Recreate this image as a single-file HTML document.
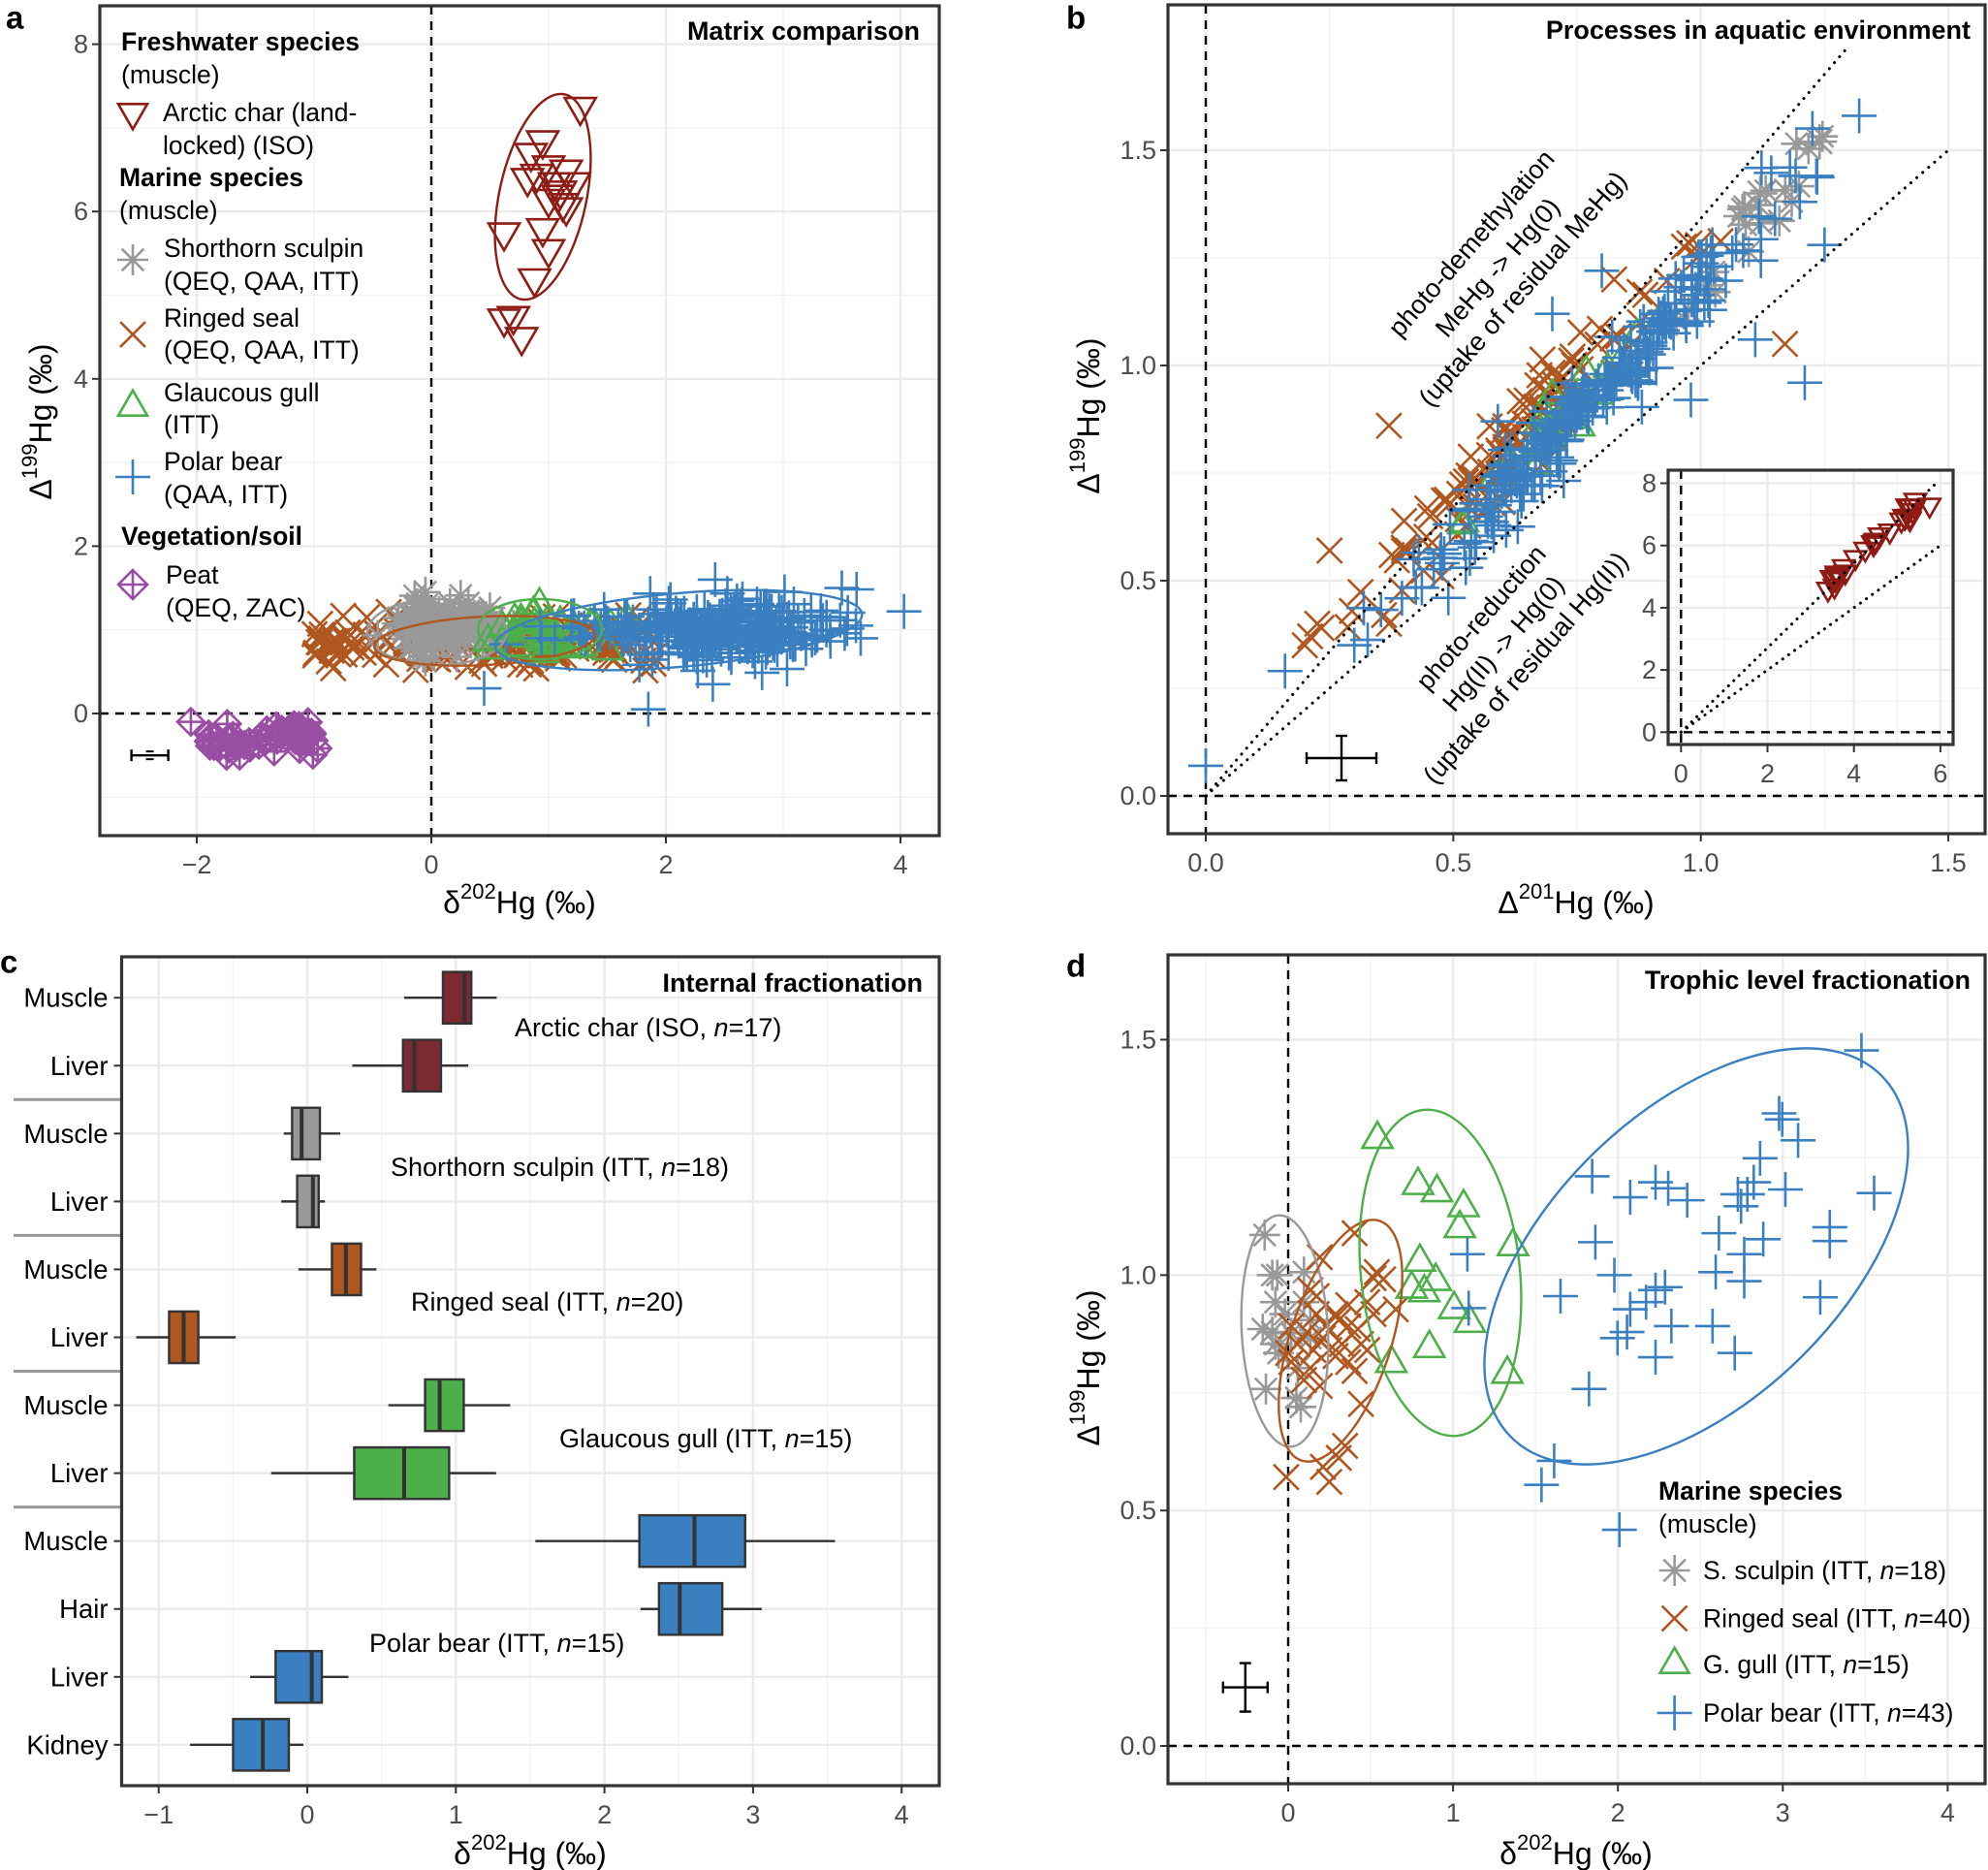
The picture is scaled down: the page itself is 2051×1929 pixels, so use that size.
<!DOCTYPE html>
<html><head><meta charset="utf-8"><style>
html,body{margin:0;padding:0;background:#fff;}
svg{display:block;font-family:"Liberation Sans",Arial,sans-serif;}
</style></head><body>
<svg id="s" width="2051" height="1929" viewBox="0 0 2051 1929" xmlns="http://www.w3.org/2000/svg"></svg>
<script>
var o=[];
function P(s){o.push(s);}
var seed=12345;function R(){seed|=0;seed=seed+0x6D2B79F5|0;var t=Math.imul(seed^seed>>>15,1|seed);t=t+Math.imul(t^t>>>7,61|t)^t;return((t^t>>>14)>>>0)/4294967296;}
function G(){var u=R()||1e-9,v=R();return Math.sqrt(-2*Math.log(u))*Math.cos(2*Math.PI*v);}
var C={char:"#8e1c14",sc:"#999999",seal:"#b0561f",gull:"#4daf4a",bear:"#3a7fc0",peat:"#984ea3"};
var SW=2.6;
function tri(x,y,s,c,down){var h=s*0.577,k=s*0.289;if(down){P('<polygon points="'+x+','+(y+h)+' '+(x-s/2)+','+(y-k)+' '+(x+s/2)+','+(y-k)+'" fill="none" stroke="'+c+'" stroke-width="'+SW+'"/>');}else{P('<polygon points="'+x+','+(y-h)+' '+(x-s/2)+','+(y+k)+' '+(x+s/2)+','+(y+k)+'" fill="none" stroke="'+c+'" stroke-width="'+SW+'"/>');}}
function plus(x,y,r,c){P('<path d="M'+(x-r)+' '+y+'H'+(x+r)+'M'+x+' '+(y-r)+'V'+(y+r)+'" stroke="'+c+'" stroke-width="'+SW+'"/>');}
function cross(x,y,r,c){var d=r*0.72;P('<path d="M'+(x-d)+' '+(y-d)+'L'+(x+d)+' '+(y+d)+'M'+(x-d)+' '+(y+d)+'L'+(x+d)+' '+(y-d)+'" stroke="'+c+'" stroke-width="'+SW+'"/>');}
function star(x,y,r,c){var d=r*0.707;P('<path d="M'+(x-r)+' '+y+'H'+(x+r)+'M'+x+' '+(y-r)+'V'+(y+r)+'M'+(x-d)+' '+(y-d)+'L'+(x+d)+' '+(y+d)+'M'+(x-d)+' '+(y+d)+'L'+(x+d)+' '+(y-d)+'" stroke="'+c+'" stroke-width="'+SW+'"/>');}
function dia(x,y,r,c){P('<path d="M'+x+' '+(y-r)+'L'+(x+r)+' '+y+'L'+x+' '+(y+r)+'L'+(x-r)+' '+y+'Z M'+(x-r)+' '+y+'H'+(x+r)+'M'+x+' '+(y-r)+'V'+(y+r)+'" fill="none" stroke="'+c+'" stroke-width="'+SW+'"/>');}
function T(x,y,t,sz,anc,extra){P('<text x="'+x+'" y="'+y+'" font-size="'+sz+'" text-anchor="'+(anc||"start")+'" dominant-baseline="central" '+(extra||'')+'>'+t+'</text>');}
function line(x1,y1,x2,y2,c,w,da){P('<line x1="'+x1+'" y1="'+y1+'" x2="'+x2+'" y2="'+y2+'" stroke="'+c+'" stroke-width="'+w+'"'+(da?' stroke-dasharray="'+da+'"':'')+'/>');}
function ell(cx,cy,rx,ry,rot,c){P('<ellipse cx="'+cx+'" cy="'+cy+'" rx="'+rx+'" ry="'+ry+'" transform="rotate('+rot+' '+cx+' '+cy+')" fill="none" stroke="'+c+'" stroke-width="2.4"/>');}
function grid(x0,y0,x1,y1,xs,ys,xm,ym){xm.forEach(function(v){line(v,y0,v,y1,"#f2f2f2",1.3);});ym.forEach(function(v){line(x0,v,x1,v,"#f2f2f2",1.3);});xs.forEach(function(v){line(v,y0,v,y1,"#ebebeb",2.4);});ys.forEach(function(v){line(x0,v,x1,v,"#ebebeb",2.4);});}
function frame(x0,y0,x1,y1){P('<rect x="'+x0+'" y="'+y0+'" width="'+(x1-x0)+'" height="'+(y1-y0)+'" fill="none" stroke="#333" stroke-width="3.2"/>');}
function xt(x,y,lab){line(x,y,x,y+8,"#333",2);T(x,y+30,lab,27,"middle",'fill="#4d4d4d"');}
function yt(x,y,lab){line(x-8,y,x,y,"#333",2);T(x-12,y,lab,27,"end",'fill="#4d4d4d"');}
function sup(x,y,pre,s,post,rot){P('<text x="'+x+'" y="'+y+'" font-size="32" text-anchor="middle" dominant-baseline="central"'+(rot?' transform="rotate(-90 '+x+' '+y+')"':'')+'>'+pre+'<tspan font-size="22" dy="-12">'+s+'</tspan><tspan dy="12">'+post+'</tspan></text>');}

// ================= Panel a =================
(function(){
var ax=function(v){return 445+121*v;},ay=function(v){return 736-86.3*v;};
var X0=103,X1=969,Y0=6,Y1=862;
grid(X0,Y0,X1,Y1,[-2,0,2,4].map(ax),[0,2,4,6,8].map(ay),[-1,1,3].map(ax),[-1,1,3,5,7].map(ay));
line(ax(0),Y0,ax(0),Y1,"#000",2.4,"9,7");line(X0,ay(0),X1,ay(0),"#000",2.4,"9,7");
var i,x,y;
dia(ax(-2.05),ay(-0.1),14,C.peat);
for(i=0;i<60;i++){x=-1.9+R()*0.95;y=-0.28+G()*0.09-(x<-1.5?0.08:0);dia(ax(x),ay(y),14,C.peat);}
for(i=0;i<150;i++){x=-1.0+Math.pow(R(),1.2)*2.9;y=0.82+G()*0.16;cross(ax(x),ay(y),18,C.seal);}
[[-0.55,1.15],[-0.95,0.85],[-0.85,0.75],[1.8,1.05],[1.9,0.85]].forEach(function(p){cross(ax(p[0]),ay(p[1]),18,C.seal);});
for(i=0;i<120;i++){x=0.1+G()*0.22;y=1.02+G()*0.15;star(ax(x),ay(y),16,C.sc);}
star(ax(-0.05),ay(1.45),16,C.sc);
for(i=0;i<45;i++){x=1.0+G()*0.22;y=0.95+G()*0.13;tri(ax(x),ay(y),30,C.gull);}
for(i=0;i<260;i++){x=2.4+G()*0.6;if(x<0.6)x=0.6+R();if(x>3.7)x=3.7-R()*0.5;y=1.0+G()*0.17;plus(ax(x),ay(y),18,C.bear);}
[[4.03,1.22],[1.85,0.05],[0.45,0.3],[2.42,1.6],[3.5,1.5],[2.4,0.35],[3.62,1.05]].forEach(function(p){plus(ax(p[0]),ay(p[1]),18,C.bear);});
ell(451,652,72,34,0,C.sc);ell(500,661,114,25,-3,C.seal);ell(557,649,64,31,0,C.gull);ell(700,650,190,38,-5,C.bear);
[[1.27,7.25],[0.95,6.85],[0.85,6.7],[1.0,6.55],[0.9,6.45],[1.15,6.5],[1.05,6.35],[1.22,6.35],[1.1,6.25],[1.0,6.15],[1.15,6.05],[0.62,5.75],[0.95,5.8],[1.0,5.55],[0.88,5.2],[0.7,4.75],[0.62,4.72],[0.77,4.5],[1.08,6.2],[1.12,6.1],[0.82,6.4]].forEach(function(p){tri(ax(p[0]),ay(p[1]),32,C.char,true);});
ell(560,203,45,108,12,C.char);
var ex=ax(-2.4),ey=ay(-0.5);line(ex-19,ey,ex+19,ey,"#000",2.4);line(ex-19,ey-6,ex-19,ey+6,"#000",2.4);line(ex+19,ey-6,ex+19,ey+6,"#000",2.4);line(ex-4,ey-4,ex+4,ey-4,"#000",2);line(ex-4,ey+4,ex+4,ey+4,"#000",2);
frame(X0,Y0,X1,Y1);
[-2,0,2,4].forEach(function(v){xt(ax(v),Y1,v<0?"\u2212"+(-v):""+v);});
[0,2,4,6,8].forEach(function(v){yt(X0,ay(v),""+v);});
sup(536,931,"\u03b4","202","Hg (\u2030)");sup(42,435,"\u0394","199","Hg (\u2030)",true);
T(6,18,"a",33,"start",'font-weight="bold"');
T(949,32,"Matrix comparison",27,"end",'font-weight="bold"');
var f=26.5;
T(125,43,"Freshwater species",f,"start",'font-weight="bold"');T(125,77,"(muscle)",f);
tri(137,116,30,C.char,true);T(168,116,"Arctic char (land-",f);T(168,150,"locked) (ISO)",f);
T(123,183,"Marine species",f,"start",'font-weight="bold"');T(123,217,"(muscle)",f);
star(137,268,16,C.sc);T(169,256,"Shorthorn sculpin",f);T(169,290,"(QEQ, QAA, ITT)",f);
cross(137,345,18,C.seal);T(169,328,"Ringed seal",f);T(169,361,"(QEQ, QAA, ITT)",f);
tri(137,420,30,C.gull);T(169,405,"Glaucous gull",f);T(169,438,"(ITT)",f);
plus(137,492,18,C.bear);T(169,476,"Polar bear",f);T(169,510,"(QAA, ITT)",f);
T(125,553,"Vegetation/soil",f,"start",'font-weight="bold"');
dia(137,603,15,C.peat);T(171,593,"Peat",f);T(171,627,"(QEQ, ZAC)",f);
})();

// ================= Panel b =================
(function(){
var bx=function(v){return 1244+510.7*v;},by=function(v){return 821-444*v;};
var X0=1205,X1=2048,Y0=5,Y1=860;
grid(X0,Y0,X1,Y1,[0,0.5,1,1.5].map(bx),[0,0.5,1,1.5].map(by),[0.25,0.75,1.25].map(bx),[0.25,0.75,1.25].map(by));
line(bx(0),Y0,bx(0),Y1,"#000",2.4,"9,7");line(X0,by(0),X1,by(0),"#000",2.4,"9,7");
var i,x,y;
for(i=0;i<110;i++){x=0.6+G()*0.17;if(x<0.2)x=0.2+R()*0.2;y=1.25*x+0.04+G()*0.055;cross(bx(x),by(y),18,C.seal);}
[[0.37,0.86],[0.25,0.57],[0.2,0.35],[1.17,1.05],[0.68,0.77],[0.58,0.68],[0.45,0.58],[0.36,0.42],[0.37,0.4]].forEach(function(p){cross(bx(p[0]),by(p[1]),18,C.seal);});
for(i=0;i<25;i++){x=0.72+G()*0.12;y=1.2*x+0.02+G()*0.03;tri(bx(x),by(y),28,C.gull);}
for(i=0;i<20;i++){x=0.95+R()*0.3;y=1.2*x+G()*0.04;star(bx(x),by(y),16,C.sc);}
star(bx(1.24),by(1.52),18,C.sc);star(bx(1.12),by(1.4),18,C.sc);
for(i=0;i<230;i++){x=0.78+G()*0.2;if(x<0.3)x=0.3+R()*0.3;if(x>1.25)x=1.25-R()*0.2;y=1.2*x-0.01+G()*0.045;plus(bx(x),by(y),18,C.bear);}
[[0,0.07],[0.16,0.29],[0.3,0.35],[0.49,0.46],[1.32,1.58],[1.18,1.46],[1.2,1.38],[0.7,1.12],[0.8,1.22],[1.11,1.06],[1.21,0.96],[0.98,0.92],[1.25,1.28],[0.59,0.87],[0.42,0.55]].forEach(function(p){plus(bx(p[0]),by(p[1]),18,C.bear);});
P('<line x1="'+bx(0)+'" y1="'+by(0)+'" x2="'+bx(1.298)+'" y2="'+by(1.741)+'" stroke="#000" stroke-width="3" stroke-dasharray="0.1,8" stroke-linecap="round"/>');
P('<line x1="'+bx(0)+'" y1="'+by(0)+'" x2="'+bx(1.5)+'" y2="'+by(1.5)+'" stroke="#000" stroke-width="3" stroke-dasharray="0.1,8" stroke-linecap="round"/>');
function rt(x,y,t){P('<text x="'+x+'" y="'+y+'" font-size="27" text-anchor="middle" dominant-baseline="central" transform="rotate(-49 '+x+' '+y+')">'+t+'</text>');}
rt(1518,251,"photo-demethylation");rt(1545,276,"MeHg -&gt; Hg(0)");rt(1571,298,"(uptake of residual MeHg)");
rt(1528,637,"photo-reduction");rt(1551,664,"Hg(II) -&gt; Hg(0)");rt(1574,689,"(uptake of residual Hg(II))");
var ex=1384,ey=782;line(ex-36,ey,ex+36,ey,"#000",2.4);line(ex,ey-23,ex,ey+23,"#000",2.4);line(ex-36,ey-6,ex-36,ey+6,"#000",2.4);line(ex+36,ey-6,ex+36,ey+6,"#000",2.4);line(ex-6,ey-23,ex+6,ey-23,"#000",2.4);line(ex-6,ey+23,ex+6,ey+23,"#000",2.4);
frame(X0,Y0,X1,Y1);
[[0,"0.0"],[0.5,"0.5"],[1,"1.0"],[1.5,"1.5"]].forEach(function(v){xt(bx(v[0]),Y1,v[1]);yt(X0,by(v[0]),v[1]);});
sup(1626,931,"\u0394","201","Hg (\u2030)");sup(1123,429,"\u0394","199","Hg (\u2030)",true);
T(1100,18,"b",33,"start",'font-weight="bold"');
T(2033,31,"Processes in aquatic environment",27,"end",'font-weight="bold"');
var I0=1721,I1=2015,J0=485,J1=768;
var ix=function(v){return 1734.3+44.6*v;},iy=function(v){return 755.3-32.1*v;};
P('<rect x="'+I0+'" y="'+J0+'" width="'+(I1-I0)+'" height="'+(J1-J0)+'" fill="#fff"/>');
grid(I0,J0,I1,J1,[0,2,4,6].map(ix),[0,2,4,6,8].map(iy),[1,3,5].map(ix),[1,3,5,7].map(iy));
line(ix(0),J0,ix(0),J1,"#000",2.4,"9,7");line(I0,iy(0),I1,iy(0),"#000",2.4,"9,7");
for(i=0;i<24;i++){x=3.4+R()*2.2;y=1.24*x+0.55+G()*0.12;tri(ix(x),iy(y),22,C.char,true);}
[[3.4,4.6],[3.55,4.7],[5.75,7.3],[5.3,6.95],[3.8,5.15]].forEach(function(p){tri(ix(p[0]),iy(p[1]),22,C.char,true);});
P('<line x1="'+ix(0)+'" y1="'+iy(0)+'" x2="'+ix(5.9)+'" y2="'+iy(8)+'" stroke="#000" stroke-width="3" stroke-dasharray="0.1,7.5" stroke-linecap="round"/>');
P('<line x1="'+ix(0)+'" y1="'+iy(0)+'" x2="'+ix(6)+'" y2="'+iy(6)+'" stroke="#000" stroke-width="3" stroke-dasharray="0.1,7.5" stroke-linecap="round"/>');
frame(I0,J0,I1,J1);
[0,2,4,6].forEach(function(v){xt(ix(v),J1,""+v);});[0,2,4,6,8].forEach(function(v){yt(I0,iy(v),""+v);});
})();

// ================= Panel c =================
(function(){
var cx=function(v){return 317+153.3*v;};
var X0=125.5,X1=969,Y0=987,Y1=1842;
var rows=[];for(var i=0;i<12;i++)rows.push(1029.2+70.06*i);
var xm=[-0.5,0.5,1.5,2.5,3.5].map(cx);
grid(X0,Y0,X1,Y1,[-1,0,1,2,3,4].map(cx),rows,xm,[]);
var labs=["Muscle","Liver","Muscle","Liver","Muscle","Liver","Muscle","Liver","Muscle","Hair","Liver","Kidney"];
var cols=["#7b2a32","#7b2a32","#999999","#999999","#b0561f","#b0561f","#4daf4a","#4daf4a","#3a7fc0","#3a7fc0","#3a7fc0","#3a7fc0"];
var d=[[0.652,0.913,1.058,1.104,1.275],[0.303,0.644,0.721,0.9,1.083],[-0.158,-0.102,-0.038,0.085,0.222],[-0.175,-0.068,0.038,0.077,0.119],[-0.06,0.166,0.26,0.362,0.465],[-1.151,-0.93,-0.832,-0.733,-0.482],[0.546,0.793,0.891,1.053,1.365],[-0.243,0.316,0.652,0.955,1.271],[1.535,2.235,2.606,2.947,3.552],[2.243,2.367,2.507,2.793,3.058],[-0.384,-0.213,0.03,0.098,0.277],[-0.789,-0.499,-0.299,-0.124,-0.026]];
d.forEach(function(b,i){var y=rows[i];line(cx(b[0]),y,cx(b[4]),y,"#333",2.4);
P('<rect x="'+cx(b[1])+'" y="'+(y-26.6)+'" width="'+(cx(b[3])-cx(b[1]))+'" height="53.2" fill="'+cols[i]+'" stroke="#333" stroke-width="2.4"/>');
line(cx(b[2]),y-26.6,cx(b[2]),y+26.6,"#333",4);
line(X0-8,y,X0,y,"#333",2);T(X0-14,y,labs[i],27.5,"end",'fill="#000"');});
[1134.3,1274.4,1414.5,1554.6].forEach(function(y){line(14,y,X0,y,"#999",3);});
frame(X0,Y0,X1,Y1);
[-1,0,1,2,3,4].forEach(function(v){xt(cx(v),Y1,v<0?"\u2212"+(-v):""+v);});
sup(547,1912,"\u03b4","202","Hg (\u2030)");
T(0,992,"c",33,"start",'font-weight="bold"');
T(952,1014,"Internal fractionation",27,"end",'font-weight="bold"');
function an(x,y,a,b){P('<text x="'+x+'" y="'+y+'" font-size="27" dominant-baseline="central">'+a+'<tspan font-style="italic">n</tspan>'+b+'</text>');}
an(531,1060,"Arctic char (ISO, ","=17)");an(403,1204,"Shorthorn sculpin (ITT, ","=18)");an(424,1343,"Ringed seal (ITT, ","=20)");an(577,1484,"Glaucous gull (ITT, ","=15)");an(381,1695,"Polar bear (ITT, ","=15)");
})();

// ================= Panel d =================
(function(){
var dx=function(v){return 1329+170.1*v;},dy=function(v){return 1801-485.7*v;};
var zx=function(v){return 1025+v/1.53;},zy=function(v){return 960+v/1.618;};
var X0=1205,X1=2048,Y0=985,Y1=1840;
grid(X0,Y0,X1,Y1,[0,1,2,3,4].map(dx),[0,0.5,1,1.5].map(dy),[-0.5,0.5,1.5,2.5,3.5].map(dx),[0.25,0.75,1.25].map(dy));
line(dx(0),Y0,dx(0),Y1,"#000",2.4,"9,7");line(X0,dy(0),X1,dy(0),"#000",2.4,"9,7");
[[428,508],[440,575],[448,575],[490,570],[445,620],[490,620],[425,665],[440,670],[470,672],[500,680],[450,705],[480,730],[430,765],[478,780],[485,795],[445,690],[460,640],[500,650]].forEach(function(p){star(zx(p[0]),zy(p[1]),16,C.sc);});
[[570,505],[515,545],[600,580],[615,582],[510,610],[590,620],[560,625],[635,632],[540,640],[560,660],[495,670],[520,680],[575,665],[480,690],[550,690],[580,690],[505,700],[465,705],[540,710],[560,720],[500,730],[570,735],[490,750],[515,760],[580,790],[555,860],[545,880],[520,895],[530,920],[462,912],[600,640],[470,660],[510,640],[525,660],[590,700],[545,650],[470,720],[530,700],[605,570],[500,600]].forEach(function(p){cross(zx(p[0]),zy(p[1]),18,C.seal);});
[[606,348],[670,425],[700,437],[742,462],[736,497],[820,527],[673,553],[660,598],[680,604],[698,585],[727,632],[752,655],[688,697],[628,722],[811,740]].forEach(function(p){tri(zx(p[0]),zy(p[1]),31,C.gull);});
[[1370,200],[1240,305],[1245,315],[1270,350],[1210,380],[945,410],[1045,420],[1065,430],[1005,445],[1095,450],[1175,440],[1190,440],[1250,432],[1390,438],[1180,460],[1200,420],[1145,505],[1215,515],[1320,495],[1320,518],[950,520],[748,540],[1185,540],[1140,570],[980,575],[1185,585],[1045,600],[1060,595],[895,610],[1305,612],[1005,632],[1030,620],[750,630],[1070,660],[1135,660],[985,680],[1000,670],[1045,712],[1170,705],[940,765],[885,885],[865,925],[988,1000]].forEach(function(p){plus(zx(p[0]),zy(p[1]),18,C.bear);});
ell(1325.5,1373,44.5,119.5,-3,C.sc);ell(1383,1383,52,130,18,C.seal);ell(1486,1313,82,169,-6,C.gull);ell(1750,1296,267,150,-44,C.bear);
var ex=dx(-0.26),ey=1740.6;line(ex-23,ey,ex+23,ey,"#000",2.4);line(ex,ey-25,ex,ey+25,"#000",2.4);line(ex-23,ey-6,ex-23,ey+6,"#000",2.4);line(ex+23,ey-6,ex+23,ey+6,"#000",2.4);line(ex-6,ey-25,ex+6,ey-25,"#000",2.4);line(ex-6,ey+25,ex+6,ey+25,"#000",2.4);
frame(X0,Y0,X1,Y1);
[0,1,2,3,4].forEach(function(v){xt(dx(v),Y1,""+v);});
[[0,"0.0"],[0.5,"0.5"],[1,"1.0"],[1.5,"1.5"]].forEach(function(v){yt(X0,dy(v[0]),v[1]);});
sup(1626,1912,"\u03b4","202","Hg (\u2030)");sup(1123,1411,"\u0394","199","Hg (\u2030)",true);
T(1100,996,"d",33,"start",'font-weight="bold"');
T(2033,1011,"Trophic level fractionation",27,"end",'font-weight="bold"');
T(1711,1538,"Marine species",26.5,"start",'font-weight="bold"');T(1711,1572,"(muscle)",26.5);
function le(y,a,b){P('<text x="1757" y="'+y+'" font-size="26.5" dominant-baseline="central">'+a+'<tspan font-style="italic">n</tspan>'+b+'</text>');}
star(1727.6,1620,16,C.sc);le(1620,"S. sculpin (ITT, ","=18)");
cross(1727.6,1669.5,18,C.seal);le(1669.5,"Ringed seal (ITT, ","=40)");
tri(1727.6,1717,30,C.gull);le(1717,"G. gull (ITT, ","=15)");
plus(1727.6,1767,18,C.bear);le(1767,"Polar bear (ITT, ","=43)");
})();
document.getElementById("s").innerHTML=o.join("");
</script>
</body></html>
